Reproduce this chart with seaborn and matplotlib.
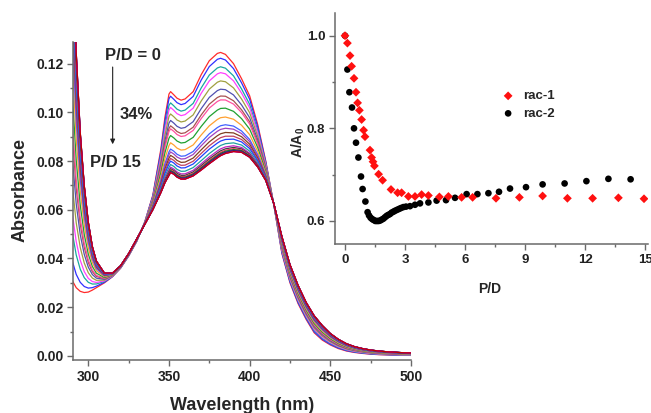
import numpy as np
import pandas as pd
import matplotlib
matplotlib.use('Agg')
import matplotlib.pyplot as plt
from matplotlib.ticker import MultipleLocator
import seaborn as sns

# spectra: first (P/D = 0) and last (P/D = 15) curves
wavelength = [290, 292.5, 295, 297.5, 300, 302.5, 305, 310, 315, 320, 325, 330, 335, 340,
              345, 347.5, 350, 351, 353, 355, 357.5, 360, 365, 370, 375, 380, 382, 385,
              390, 395, 400, 405, 410, 415, 420, 425, 430, 435, 440, 445, 450, 455, 460,
              465, 470, 475, 480, 485, 490, 495, 500]
abs_start = [0.031, 0.028, 0.0265, 0.026, 0.0262, 0.027, 0.028, 0.030, 0.0325, 0.036,
             0.041, 0.047, 0.055, 0.066, 0.085, 0.098, 0.1075, 0.1085, 0.1072, 0.1058,
             0.105, 0.1055, 0.1085, 0.1155, 0.1212, 0.1242, 0.1246, 0.1238, 0.1200,
             0.1138, 0.1068, 0.0950, 0.0800, 0.0620, 0.0420, 0.0300, 0.0215, 0.0150,
             0.0095, 0.0065, 0.0045, 0.0030, 0.0020, 0.0014, 0.0010, 0.0007, 0.0005,
             0.0004, 0.0003, 0.0002, 0.0002]
abs_end = [0.175, 0.125, 0.092, 0.070, 0.055, 0.045, 0.039, 0.034, 0.034, 0.037, 0.042,
           0.048, 0.054, 0.060, 0.067, 0.071, 0.074, 0.0752, 0.0745, 0.0733, 0.0725,
           0.0725, 0.0738, 0.0762, 0.0788, 0.0812, 0.0821, 0.0830, 0.0838, 0.0835,
           0.0815, 0.0775, 0.0720, 0.0625, 0.0490, 0.0375, 0.0290, 0.0220, 0.0165,
           0.0125, 0.0092, 0.0068, 0.0050, 0.0038, 0.0030, 0.0024, 0.0020, 0.0017,
           0.0015, 0.0013, 0.0012]
# absorbance at ~382 nm of each spectrum in the titration
peak_abs = [0.1246, 0.1222, 0.1187, 0.1163, 0.1129, 0.1095, 0.1067, 0.1051, 0.1016,
            0.0978, 0.0945, 0.0930, 0.0912, 0.0896, 0.0882, 0.0864, 0.0850, 0.0842,
            0.0836, 0.0832, 0.0828, 0.0826, 0.0824, 0.0823, 0.0822, 0.0822]
line_colors = ['#ff2a2a', '#3030ff', '#18a8a0', '#ff40ff', '#a0a040', '#5050b0',
               '#a85050', '#ff50a0', '#20a030', '#ffa030', '#4060ff', '#a040c0',
               '#804020', '#c04060', '#2040ff', '#20a0a0', '#c020c0', '#404040',
               '#ff3060', '#208020', '#202080', '#800080', '#008080', '#000000',
               '#ff00ff', '#c00000']

# inset: relative absorbance vs P/D
pd_rac1 = [0, 0.12, 0.25, 0.33, 0.45, 0.55, 0.63, 0.72, 0.83, 0.93, 1.0, 1.25, 1.33,
           1.40, 1.47, 1.68, 1.88, 2.3, 2.63, 2.83, 3.17, 3.5, 3.83, 4.17, 4.72, 5.17,
           5.83, 6.38, 7.55, 8.72, 9.88, 11.12, 12.38, 13.67, 14.95]
a_rac1 = [1.0, 0.984, 0.957, 0.934, 0.908, 0.878, 0.855, 0.839, 0.819, 0.796, 0.782,
          0.753, 0.737, 0.728, 0.719, 0.701, 0.688, 0.668, 0.661, 0.661, 0.653, 0.653,
          0.657, 0.655, 0.652, 0.653, 0.651, 0.651, 0.649, 0.651, 0.654, 0.649, 0.649,
          0.650, 0.648]
pd_rac2 = [0, 0.12, 0.22, 0.35, 0.45, 0.55, 0.67, 0.8, 0.88, 1.02, 1.13, 1.2, 1.28, 1.36,
           1.44, 1.52, 1.6, 1.68, 1.76, 1.84, 1.92, 2.0, 2.08, 2.16, 2.25, 2.33, 2.42,
           2.5, 2.6, 2.7, 2.8, 2.92, 3.05, 3.25, 3.5, 3.75, 4.17, 4.58, 5.05, 5.5, 6.08,
           6.62, 7.17, 7.7, 8.25, 9.05, 9.88, 10.98, 12.07, 13.17, 14.28]
a_rac2 = [1.0, 0.927, 0.878, 0.845, 0.80, 0.769, 0.737, 0.696, 0.669, 0.642, 0.619,
          0.612, 0.607, 0.604, 0.602, 0.600, 0.600, 0.600, 0.601, 0.603, 0.605, 0.608,
          0.611, 0.613, 0.615, 0.618, 0.620, 0.622, 0.624, 0.626, 0.628, 0.630, 0.631,
          0.632, 0.635, 0.638, 0.640, 0.644, 0.645, 0.650, 0.658, 0.658, 0.660, 0.663,
          0.670, 0.673, 0.679, 0.681, 0.686, 0.691, 0.690]

sns.set_style('ticks')
plt.rcParams['font.family'] = ['Liberation Sans', 'DejaVu Sans']
plt.rcParams['font.weight'] = 'bold'
plt.rcParams['mathtext.fontset'] = 'custom'
plt.rcParams['mathtext.bf'] = 'Liberation Sans:bold'
plt.rcParams['mathtext.rm'] = 'Liberation Sans:bold'
plt.rcParams['mathtext.default'] = 'bf'

# build the titration spectra from the two end spectra
wl = np.array(wavelength)
a0 = np.array(abs_start)
a1 = np.array(abs_end)
top = np.interp(382, wl, a0)
bot = np.interp(382, wl, a1)
rows = []
for i, p in enumerate(peak_abs):
    f = (p - bot) / (top - bot)
    for w, v in zip(wl, a1 + f * (a0 - a1)):
        rows.append((i, w, v))
spec = pd.DataFrame(rows, columns=['curve', 'wavelength', 'absorbance'])

fig = plt.figure(figsize=(6.51, 4.13), dpi=100)
ax = fig.add_axes([0.1121, 0.1283, 0.5192, 0.7707])
sns.lineplot(data=spec, x='wavelength', y='absorbance', hue='curve',
             palette=line_colors, estimator=None, legend=False, linewidth=0.9, ax=ax)
ax.set_xlim(290.5, 500)
ax.set_ylim(-0.0017, 0.129)
ax.xaxis.set_major_locator(MultipleLocator(50))
ax.xaxis.set_minor_locator(MultipleLocator(25))
ax.yaxis.set_major_locator(MultipleLocator(0.02))
ax.yaxis.set_minor_locator(MultipleLocator(0.01))
ax.yaxis.set_major_formatter(plt.FormatStrFormatter('%.2f'))
ax.set_xlabel('Wavelength (nm)', fontsize=13, fontweight='bold')
ax.set_ylabel('Absorbance', fontsize=13, fontweight='bold')
ax.xaxis.set_label_coords(0.5, -0.115)
ax.yaxis.set_label_coords(-0.13, 0.534)

ax.text(310.3, 0.1235, 'P/D = 0', fontsize=12, fontweight='bold', va='center')
ax.text(319.6, 0.0993, '34%', fontsize=12, fontweight='bold', va='center')
ax.text(301.0, 0.0795, 'P/D 15', fontsize=12, fontweight='bold', va='center')
ax.annotate('', xy=(315.1, 0.0869), xytext=(315.1, 0.1186),
            arrowprops=dict(arrowstyle='-|>', color='#202020', lw=0.8, mutation_scale=7,
                            shrinkA=0, shrinkB=0))

# inset
axi = fig.add_axes([0.5146, 0.4092, 0.4808, 0.5593])
axi.patch.set_alpha(0)
sns.scatterplot(x=pd_rac1, y=a_rac1, marker='D', color='#ff1010', s=20, edgecolor='none',
                label='rac-1', ax=axi, zorder=3)
sns.scatterplot(x=pd_rac2, y=a_rac2, marker='o', color='black', s=23, edgecolor='none',
                label='rac-2', ax=axi, zorder=2)
axi.set_xlim(-0.5, 15.15)
axi.set_ylim(0.5503, 1.049)
axi.xaxis.set_major_locator(MultipleLocator(3))
axi.xaxis.set_minor_locator(MultipleLocator(1.5))
axi.yaxis.set_major_locator(MultipleLocator(0.2))
axi.yaxis.set_minor_locator(MultipleLocator(0.1))
axi.yaxis.set_major_formatter(plt.FormatStrFormatter('%.1f'))
axi.set_xlabel('P/D', fontsize=10, fontweight='bold')
axi.set_ylabel('A/A$_0$', fontsize=10, fontweight='bold')
axi.xaxis.set_label_coords(0.495, -0.165)
axi.yaxis.set_label_coords(-0.089, 0.44)
axi.legend(loc='center left', bbox_to_anchor=(0.532, 0.602), frameon=False,
           fontsize=9.5, handlelength=1.0, handletextpad=0.6, labelspacing=0.4,
           borderpad=0, borderaxespad=0)

for a, fs in ((ax, 10), (axi, 9.5)):
    sns.despine(ax=a)
    for side in ('left', 'bottom'):
        a.spines[side].set_color('#6a6a6a')
        a.spines[side].set_linewidth(1.1)
    a.tick_params(which='major', direction='out', length=4, width=1, color='#6a6a6a',
                  labelsize=fs, labelcolor='#222222', pad=3)
    a.tick_params(which='minor', direction='out', length=2.5, width=1, color='#6a6a6a')

fig.savefig('out.png', dpi=100)
